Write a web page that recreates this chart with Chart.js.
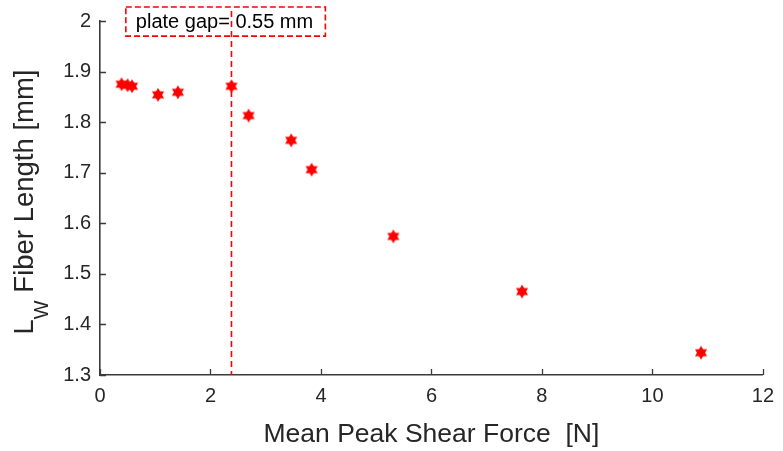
<!DOCTYPE html>
<html>
<head>
<meta charset="utf-8">
<script src="https://cdn.jsdelivr.net/npm/chart.js@4.4.1/dist/chart.umd.min.js"></script>
<style>
  html, body { margin: 0; padding: 0; background: #fff; }
  #wrap { width: 783px; height: 451px; }
</style>
</head>
<body>
<div id="wrap"><canvas id="chart" width="783" height="451"></canvas></div>
<script>
// mean peak shear force [N] vs. weighted fiber length [mm]
const shearForce  = [0.39, 0.50, 0.58, 1.05, 1.41, 2.38, 2.69, 3.46, 3.83, 5.31, 7.64, 10.88];
const fiberLength = [1.875, 1.873, 1.871, 1.854, 1.859, 1.871, 1.813, 1.764, 1.706, 1.574, 1.465, 1.344];

const xTicks = [0, 2, 4, 6, 8, 10, 12];
const yTicks = [1.3, 1.4, 1.5, 1.6, 1.7, 1.8, 1.9, 2];

// marker line for the plate gap and its label box (data units)
const plateGapForce = 2.38;
const plateGapLabel = "plate gap= 0.55 mm";
const labelBoxX = [0.468, 4.08];
const labelBoxY = [2.0276, 1.970];

const axisColor = "#3a3a3a";
const textColor = "#262626";
const fontFamily = "'Liberation Sans', Arial, Helvetica, sans-serif";

// filled six-pointed star, like MATLAB's 'h' marker
function hexagram(r, color) {
    const c = document.createElement("canvas");
    const size = Math.ceil(r * 2) + 2;
    c.width = c.height = size;
    const g = c.getContext("2d");
    g.fillStyle = color;
    for (const start of [-Math.PI / 2, Math.PI / 2]) {
        g.beginPath();
        for (let i = 0; i < 3; i++) {
            const a = start + i * 2 * Math.PI / 3;
            g.lineTo(size / 2 + r * Math.cos(a), size / 2 + r * Math.sin(a));
        }
        g.closePath();
        g.fill();
    }
    return c;
}

const extras = {
    id: "extras",
    afterDraw(chart) {
        const { ctx, chartArea: area, scales: { x, y } } = chart;
        ctx.save();

        // inward tick marks
        ctx.strokeStyle = axisColor;
        ctx.lineWidth = 1.3;
        ctx.beginPath();
        xTicks.forEach(v => {
            const px = Math.round(x.getPixelForValue(v)) + 0.5;
            ctx.moveTo(px, area.bottom);
            ctx.lineTo(px, area.bottom - 6);
        });
        yTicks.forEach(v => {
            const py = Math.round(y.getPixelForValue(v)) + 0.5;
            ctx.moveTo(area.left, py);
            ctx.lineTo(area.left + 6, py);
        });
        ctx.stroke();

        // dashed plate-gap line
        ctx.strokeStyle = "#ff0000";
        ctx.lineWidth = 1.6;
        ctx.setLineDash([6, 4]);
        const gx = x.getPixelForValue(plateGapForce);
        ctx.beginPath();
        ctx.moveTo(gx, y.getPixelForValue(2.02));
        ctx.lineTo(gx, area.bottom);
        ctx.stroke();

        // label box
        const bx0 = x.getPixelForValue(labelBoxX[0]);
        const bx1 = x.getPixelForValue(labelBoxX[1]);
        const by0 = y.getPixelForValue(labelBoxY[0]);
        const by1 = y.getPixelForValue(labelBoxY[1]);
        ctx.setLineDash([6, 3]);
        ctx.strokeRect(bx0, by0, bx1 - bx0, by1 - by0);
        ctx.setLineDash([]);
        ctx.fillStyle = "#000";
        ctx.font = `20px ${fontFamily}`;
        ctx.textBaseline = "middle";
        ctx.textAlign = "left";
        ctx.fillText(plateGapLabel, bx0 + 10, (by0 + by1) / 2 + 1);

        // x axis title
        ctx.fillStyle = textColor;
        ctx.font = `26.5px ${fontFamily}`;
        ctx.textAlign = "center";
        ctx.textBaseline = "alphabetic";
        ctx.fillText("Mean Peak Shear Force  [N]", (area.left + area.right) / 2, 442);

        // y axis title with subscript W
        ctx.rotate(-Math.PI / 2);
        const mainFont = `27.5px ${fontFamily}`;
        const subFont = `20px ${fontFamily}`;
        ctx.textAlign = "left";
        ctx.font = mainFont;
        const wL = ctx.measureText("L").width;
        const wRest = ctx.measureText(" Fiber Length [mm]").width;
        ctx.font = subFont;
        const wW = ctx.measureText("W").width;
        const total = wL + wW + wRest;
        let lx = -202 - total / 2;
        const base = 33;
        ctx.font = mainFont;
        ctx.fillText("L", lx, base);
        lx += wL;
        ctx.font = subFont;
        ctx.fillText("W", lx, base + 15);
        lx += wW;
        ctx.font = mainFont;
        ctx.fillText(" Fiber Length [mm]", lx, base);

        ctx.restore();
    }
};

const ctx = document.getElementById("chart").getContext("2d");

new Chart(ctx, {
    type: "scatter",
    data: {
        datasets: [{
            label: "Lw",
            data: shearForce.map((f, i) => ({ x: f, y: fiberLength[i] })),
            pointStyle: hexagram(7, "#ff0000"),
            pointRadius: 7,
            showLine: false
        }]
    },
    options: {
        responsive: false,
        animation: false,
        layout: { padding: { top: 19, right: 17, left: 0, bottom: 0 } },
        plugins: {
            legend: { display: false },
            tooltip: { enabled: false }
        },
        scales: {
            x: {
                type: "linear",
                min: 0,
                max: 12,
                afterBuildTicks: s => { s.ticks = xTicks.map(v => ({ value: v })); },
                afterFit: s => { s.height = 76; },
                grid: { drawOnChartArea: false, drawTicks: false },
                border: { display: true, color: axisColor, width: 1.6 },
                ticks: {
                    padding: 9,
                    color: textColor,
                    font: { family: fontFamily, size: 20 },
                    maxRotation: 0
                }
            },
            y: {
                type: "linear",
                min: 1.3,
                max: 2,
                afterBuildTicks: s => { s.ticks = yTicks.map(v => ({ value: v })); },
                afterFit: s => { s.width = 100; },
                grid: { drawOnChartArea: false, drawTicks: false },
                border: { display: true, color: axisColor, width: 1.6 },
                ticks: {
                    padding: 9,
                    color: textColor,
                    font: { family: fontFamily, size: 20 },
                    callback: v => String(v)
                }
            }
        }
    },
    plugins: [extras]
});
</script>
</body>
</html>
